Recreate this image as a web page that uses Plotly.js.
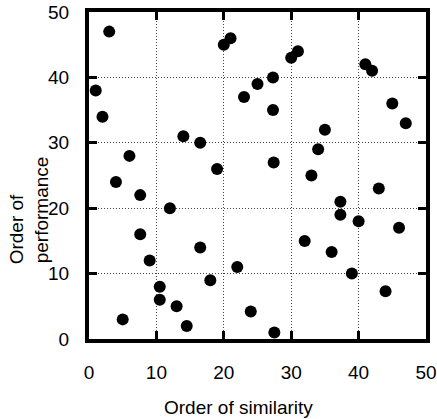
<!DOCTYPE html>
<html>
<head>
<meta charset="utf-8">
<script src="https://cdn.plot.ly/plotly-3.0.1.min.js"></script>
<style>html,body{margin:0;padding:0;background:#fff;}#chart{width:437px;height:419px;}</style>
</head>
<body>
<div id="chart"></div>
<script>
const similarity = [3, 1, 2, 14, 16.5, 6, 4, 7.6, 19, 20, 21, 30, 31, 41, 42, 27.3, 25, 23, 27.3, 45, 47, 35, 34, 27.4, 33, 43, 37.3, 12, 7.6, 9, 16.5, 18, 10.5, 10.5, 13, 5, 14.5, 37.3, 40, 46, 32, 36, 22, 39, 44, 24, 27.5];
const performance = [47, 38, 34, 31, 30, 28, 24, 22, 26, 45, 46, 43, 44, 42, 41, 40, 39, 37, 35, 36, 33, 32, 29, 27, 25, 23, 21, 20, 16, 12, 14, 9, 8, 6, 5, 3, 2, 19, 18, 17, 15, 13.3, 11, 10, 7.3, 4.2, 1];
const tickVals = [0, 10, 20, 30, 40, 50];
const xTitle = "Order of similarity";
const yTitleLines = ["Order of", "performance"];

const fontFam = "Liberation Sans, Arial, Helvetica, sans-serif";
const axisCommon = {
  range: [0, 50],
  tickvals: tickVals,
  ticktext: tickVals.map(String),
  showline: true, linecolor: "#000", linewidth: 4, mirror: "ticks",
  ticks: "inside", ticklen: 8, tickwidth: 3, tickcolor: "#000",
  showgrid: true, gridcolor: "#444", gridwidth: 1, griddash: "1px,2px",
  zeroline: false, fixedrange: true,
  ticklabeloverflow: "allow",
  tickfont: {family: fontFam, size: 19, color: "#000"}
};
const plotW = 437 - 89 - 11;
const layout = {
  width: 437, height: 419,
  margin: {l: 89, r: 11, t: 12, b: 80},
  paper_bgcolor: "#fff", plot_bgcolor: "#fff",
  showlegend: false,
  xaxis: Object.assign({}, axisCommon, {ticklabelstandoff: 13}),
  yaxis: Object.assign({}, axisCommon, {ticklabelstandoff: 12}),
  annotations: [
    {text: xTitle, xref: "paper", yref: "paper", x: (238 - 89) / plotW, y: -0.208, xanchor: "center", yanchor: "middle", showarrow: false, font: {family: fontFam, size: 19, color: "#000"}},
    {text: yTitleLines[0], xref: "paper", yref: "paper", x: (16 - 89) / plotW, y: (338.5 - 229) / 326.5, xanchor: "center", yanchor: "middle", textangle: -90, showarrow: false, font: {family: fontFam, size: 19, color: "#000"}},
    {text: yTitleLines[1], xref: "paper", yref: "paper", x: (41 - 89) / plotW, y: (338.5 - 210) / 326.5, xanchor: "center", yanchor: "middle", textangle: -90, showarrow: false, font: {family: fontFam, size: 19, color: "#000"}}
  ]
};
Plotly.newPlot("chart", [{
  type: "scatter", mode: "markers",
  x: similarity, y: performance,
  marker: {size: 12, color: "#000"},
  cliponaxis: false, hoverinfo: "skip"
}], layout, {staticPlot: true, displayModeBar: false});
</script>
</body>
</html>
